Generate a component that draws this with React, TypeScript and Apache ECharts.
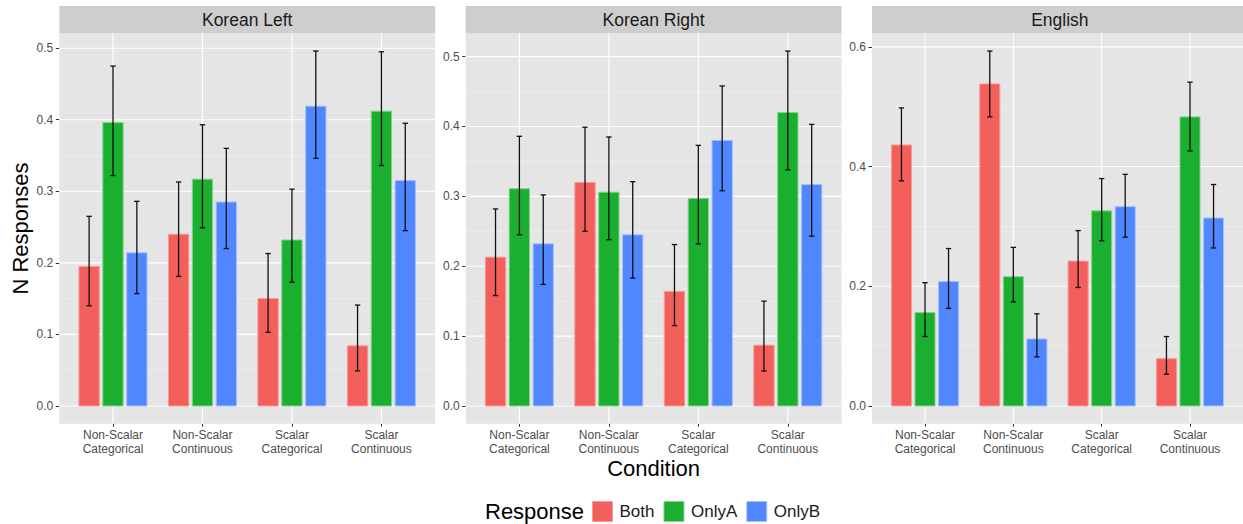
import React, { useEffect, useRef } from 'react';
import * as echarts from 'echarts';

const categories = ['Non-Scalar\nCategorical', 'Non-Scalar\nContinuous', 'Scalar\nCategorical', 'Scalar\nContinuous'];
const categoryIndex = [0, 1, 2, 3];
const responses = ['Both', 'OnlyA', 'OnlyB'];
const panelNames = ['Korean Left', 'Korean Right', 'English'];

// Korean Left
const klBoth = [0.195, 0.240, 0.150, 0.084];
const klBothLo = [0.140, 0.181, 0.103, 0.049];
const klBothHi = [0.265, 0.313, 0.213, 0.141];
const klOnlyA = [0.396, 0.317, 0.232, 0.412];
const klOnlyALo = [0.322, 0.249, 0.173, 0.336];
const klOnlyAHi = [0.475, 0.393, 0.303, 0.495];
const klOnlyB = [0.214, 0.285, 0.419, 0.315];
const klOnlyBLo = [0.157, 0.220, 0.346, 0.245];
const klOnlyBHi = [0.286, 0.360, 0.496, 0.395];

// Korean Right
const krBoth = [0.213, 0.320, 0.164, 0.087];
const krBothLo = [0.158, 0.250, 0.115, 0.050];
const krBothHi = [0.282, 0.399, 0.231, 0.150];
const krOnlyA = [0.311, 0.306, 0.297, 0.420];
const krOnlyALo = [0.245, 0.238, 0.232, 0.338];
const krOnlyAHi = [0.386, 0.385, 0.373, 0.508];
const krOnlyB = [0.232, 0.245, 0.380, 0.317];
const krOnlyBLo = [0.174, 0.183, 0.308, 0.243];
const krOnlyBHi = [0.302, 0.321, 0.458, 0.403];

// English
const enBoth = [0.436, 0.538, 0.242, 0.079];
const enBothLo = [0.376, 0.483, 0.198, 0.053];
const enBothHi = [0.498, 0.593, 0.293, 0.116];
const enOnlyA = [0.156, 0.216, 0.326, 0.483];
const enOnlyALo = [0.116, 0.174, 0.276, 0.426];
const enOnlyAHi = [0.206, 0.265, 0.380, 0.541];
const enOnlyB = [0.208, 0.112, 0.333, 0.314];
const enOnlyBLo = [0.163, 0.082, 0.282, 0.264];
const enOnlyBHi = [0.263, 0.154, 0.387, 0.370];

const yTicksKorean = [0, 0.1, 0.2, 0.3, 0.4, 0.5];
const yMinorKorean = [0.05, 0.15, 0.25, 0.35, 0.45];
const yTicksEnglish = [0, 0.2, 0.4, 0.6];
const yMinorEnglish = [0.1, 0.3, 0.5];

const panelData = [
  { mean: [klBoth, klOnlyA, klOnlyB], lo: [klBothLo, klOnlyALo, klOnlyBLo], hi: [klBothHi, klOnlyAHi, klOnlyBHi], ticks: yTicksKorean, minor: yMinorKorean },
  { mean: [krBoth, krOnlyA, krOnlyB], lo: [krBothLo, krOnlyALo, krOnlyBLo], hi: [krBothHi, krOnlyAHi, krOnlyBHi], ticks: yTicksKorean, minor: yMinorKorean },
  { mean: [enBoth, enOnlyA, enOnlyB], lo: [enBothLo, enOnlyALo, enOnlyBLo], hi: [enBothHi, enOnlyAHi, enOnlyBHi], ticks: yTicksEnglish, minor: yMinorEnglish },
];

const fills = ['#F35F5A', '#1AAF2E', '#5087FF'];
const strokes = ['#F79A96', '#86D28F', '#A3BEFF'];
const FONT = 'Liberation Sans, Arial, Helvetica, sans-serif';

const panelLefts = [59.3, 465.7, 872];
const PANEL_W = 375.8;
const PANEL_TOP = 33.3;
const PANEL_H = 390.4;
const STRIP_TOP = 6;

export default function App() {
  const ref = useRef<HTMLDivElement>(null);
  useEffect(() => {
    if (!ref.current) return;
    const chart = echarts.init(ref.current, undefined, { renderer: 'svg' });

    const grids: any[] = [];
    const xAxes: any[] = [];
    const yAxes: any[] = [];
    const series: any[] = [];
    const graphics: any[] = [];

    const dodge = 0.8 / 3;
    const bw = 0.227;
    const cap = 0.03;

    panelData.forEach((p, i) => {
      const dataMax = Math.max(...p.hi.flat());
      grids.push({
        left: panelLefts[i], top: PANEL_TOP, width: PANEL_W, height: PANEL_H,
        show: true, backgroundColor: '#E5E5E5', borderWidth: 0,
      });
      xAxes.push({
        type: 'value', gridIndex: i, min: -0.6, max: 3.6, position: 'bottom',
        axisLine: { show: false, onZero: false },
        splitLine: { show: false },
        axisTick: { show: true, customValues: categoryIndex, length: 3, lineStyle: { color: '#333', width: 1 } },
        axisLabel: {
          customValues: categoryIndex, margin: 5,
          formatter: (v: number) => categories[Math.round(v)],
          color: '#4D4D4D', fontSize: 12, lineHeight: 13.3, fontFamily: FONT, align: 'center',
        },
      });
      yAxes.push({
        type: 'value', gridIndex: i, min: -0.05 * dataMax, max: 1.05 * dataMax, position: 'left',
        axisLine: { show: false, onZero: false },
        splitLine: { show: false },
        axisTick: { show: true, customValues: p.ticks, length: 3.5, lineStyle: { color: '#333', width: 1 } },
        axisLabel: {
          customValues: p.ticks, margin: 6,
          formatter: (v: number) => v.toFixed(1),
          color: '#4D4D4D', fontSize: 12, fontFamily: FONT,
        },
      });
      // minor horizontal gridlines
      series.push({
        type: 'custom', xAxisIndex: i, yAxisIndex: i, z: 0, silent: true,
        data: p.minor.map((v) => [0, v]),
        renderItem: (params: any, api: any) => {
          const cs = params.coordSys;
          const y = api.coord([0, api.value(1)])[1];
          return { type: 'line', shape: { x1: cs.x, y1: y, x2: cs.x + cs.width, y2: y }, style: { stroke: '#F2F2F2', lineWidth: 0.6 } };
        },
      });
      // major horizontal gridlines
      series.push({
        type: 'custom', xAxisIndex: i, yAxisIndex: i, z: 1, silent: true,
        data: p.ticks.map((v) => [0, v]),
        renderItem: (params: any, api: any) => {
          const cs = params.coordSys;
          const y = api.coord([0, api.value(1)])[1];
          return { type: 'line', shape: { x1: cs.x, y1: y, x2: cs.x + cs.width, y2: y }, style: { stroke: '#FFFFFF', lineWidth: 1.1 } };
        },
      });
      // vertical gridlines
      series.push({
        type: 'custom', xAxisIndex: i, yAxisIndex: i, z: 1, silent: true,
        data: categoryIndex.map((c) => [c, 0]),
        renderItem: (params: any, api: any) => {
          const cs = params.coordSys;
          const x = api.coord([api.value(0), 0])[0];
          return { type: 'line', shape: { x1: x, y1: cs.y, x2: x, y2: cs.y + cs.height }, style: { stroke: '#FFFFFF', lineWidth: 1.1 } };
        },
      });
      // bars with error bars
      responses.forEach((r, ri) => {
        series.push({
          type: 'custom', name: r, xAxisIndex: i, yAxisIndex: i, z: 2,
          itemStyle: { color: fills[ri] },
          data: categoryIndex.map((c) => [c, p.mean[ri][c], p.lo[ri][c], p.hi[ri][c]]),
          renderItem: (params: any, api: any) => {
            const x = api.value(0) + (ri - 1) * dodge;
            const v = api.value(1);
            const lo = api.value(2);
            const hi = api.value(3);
            const b0 = api.coord([x - bw / 2, 0]);
            const b1 = api.coord([x + bw / 2, v]);
            const eLo = api.coord([x, lo]);
            const eHi = api.coord([x, hi]);
            const cL = api.coord([x - cap, lo])[0];
            const cR = api.coord([x + cap, lo])[0];
            const es = { stroke: '#111', lineWidth: 1.3 };
            return {
              type: 'group',
              children: [
                { type: 'rect', shape: { x: b0[0], y: b1[1], width: b1[0] - b0[0], height: b0[1] - b1[1] }, style: { fill: fills[ri], stroke: strokes[ri], lineWidth: 1 } },
                { type: 'line', shape: { x1: eLo[0], y1: eLo[1], x2: eHi[0], y2: eHi[1] }, style: es },
                { type: 'line', shape: { x1: cL, y1: eLo[1], x2: cR, y2: eLo[1] }, style: es },
                { type: 'line', shape: { x1: cL, y1: eHi[1], x2: cR, y2: eHi[1] }, style: es },
              ],
            };
          },
        });
      });
      // strip
      graphics.push({ type: 'rect', shape: { x: panelLefts[i], y: STRIP_TOP, width: PANEL_W, height: PANEL_TOP - STRIP_TOP }, style: { fill: '#CECECE' } });
      graphics.push({
        type: 'text', x: panelLefts[i] + PANEL_W / 2, y: (STRIP_TOP + PANEL_TOP) / 2 + 0.5,
        style: { text: panelNames[i], fill: '#1A1A1A', font: `17.5px ${FONT}`, align: 'center', verticalAlign: 'middle' },
      });
    });

    graphics.push({
      type: 'text', x: 20, y: PANEL_TOP + PANEL_H / 2, rotation: Math.PI / 2,
      style: { text: 'N Responses', fill: '#000', font: `22px ${FONT}`, align: 'center', verticalAlign: 'middle' },
    });
    graphics.push({
      type: 'text', x: panelLefts[1] + PANEL_W / 2, y: 468.5,
      style: { text: 'Condition', fill: '#000', font: `22px ${FONT}`, align: 'center', verticalAlign: 'middle' },
    });
    graphics.push({
      type: 'text', x: 485, y: 511.5,
      style: { text: 'Response', fill: '#000', font: `22px ${FONT}`, align: 'left', verticalAlign: 'middle' },
    });

    chart.setOption({
      animation: false,
      backgroundColor: '#FFFFFF',
      grid: grids,
      xAxis: xAxes,
      yAxis: yAxes,
      series,
      legend: {
        left: 592, top: 501, padding: 0, orient: 'horizontal',
        itemWidth: 20, itemHeight: 20, itemGap: 9, icon: 'rect', selectedMode: false,
        textStyle: { fontSize: 17, color: '#1A1A1A', fontFamily: FONT, padding: [0, 0, 0, 2] },
        data: responses.map((r, ri) => ({ name: r, itemStyle: { color: fills[ri], borderColor: strokes[ri], borderWidth: 1 } })),
      },
      graphic: graphics,
    });
    return () => chart.dispose();
  }, []);
  return <div ref={ref} style={{ position: 'absolute', left: 0, top: 0, width: 1243, height: 524 }} />;
}
